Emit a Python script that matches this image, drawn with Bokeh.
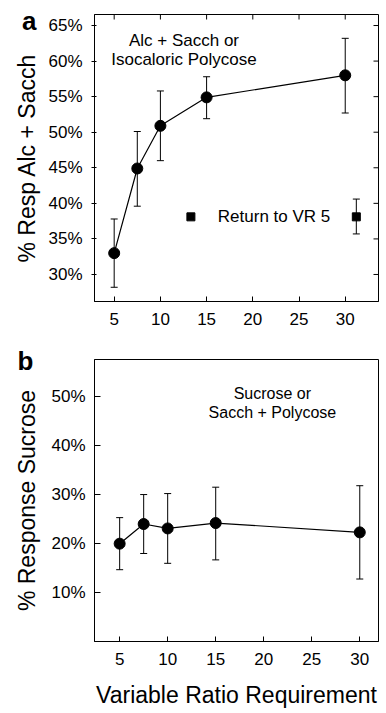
import math
from bokeh.plotting import figure
from bokeh.layouts import column
from bokeh.models import (Range1d, FixedTicker, PrintfTickFormatter, LinearAxis,
                          CustomJSTickFormatter, Whisker, TeeHead, ColumnDataSource)
from bokeh.embed import file_html
from bokeh.resources import INLINE
from bokeh.core.properties import value

FONT = "Liberation Sans"

# ---- data ----
vr = [5, 7.5, 10, 15, 30]
a_mean = [33.0, 44.9, 50.9, 54.9, 58.0]
a_upper = [37.8, 50.1, 55.8, 57.8, 63.2]
a_lower = [28.2, 39.6, 46.0, 51.9, 52.7]

ret_x = [31.2]
ret_mean = [38.1]
ret_upper = [40.6]
ret_lower = [35.7]

b_mean = [20.0, 24.0, 23.1, 24.2, 22.3]
b_upper = [25.3, 30.0, 30.2, 31.5, 31.8]
b_lower = [14.7, 18.0, 16.0, 16.7, 12.8]

x_ticks = [5, 10, 15, 20, 25, 30]
a_y_ticks = [30, 35, 40, 45, 50, 55, 60, 65]
b_y_ticks = [10, 20, 30, 40, 50]

a_note = ["Alc + Sacch or", "Isocaloric Polycose"]
b_note = ["Sucrose or", "Sacch + Polycose"]
legend_text = "Return to VR 5"


def style_axes(p, yticks, left_in, left_out, tick_standoff, label_standoff):
    for ax in p.xaxis:
        ax.ticker = FixedTicker(ticks=x_ticks)
        ax.major_tick_in = 5
        ax.major_tick_out = 0
        ax.minor_tick_line_color = None
        ax.major_label_text_font = FONT
        ax.major_label_text_font_size = "17px"
        ax.major_label_text_color = "black"
        ax.major_label_standoff = 11
        ax.axis_line_color = "black"
        ax.major_tick_line_color = "black"
    for ax in p.yaxis:
        ax.ticker = FixedTicker(ticks=yticks)
        ax.formatter = PrintfTickFormatter(format="%d%%")
        ax.major_tick_in = left_in
        ax.major_tick_out = left_out
        ax.minor_tick_line_color = None
        ax.major_label_text_font = FONT
        ax.major_label_text_font_size = "17px"
        ax.major_label_text_color = "black"
        ax.major_label_standoff = tick_standoff
        ax.axis_line_color = "black"
        ax.major_tick_line_color = "black"
        ax.axis_label_text_font = FONT
        ax.axis_label_text_font_size = "23px"
        ax.axis_label_text_font_style = "normal"
        ax.axis_label_text_color = "black"
        ax.axis_label_standoff = label_standoff
    p.xgrid.grid_line_color = None
    p.ygrid.grid_line_color = None
    p.outline_line_color = "black"
    p.outline_line_width = 1


def panel_letter(p, letter, y_pos, standoff):
    # an extra, line-less left axis whose single tick label is the panel letter
    ax = LinearAxis(ticker=FixedTicker(ticks=[y_pos]),
                    formatter=CustomJSTickFormatter(code="return '%s'" % letter),
                    axis_line_color=None, major_tick_line_color=None,
                    minor_tick_line_color=None, major_tick_in=0, major_tick_out=0,
                    major_label_standoff=standoff, major_label_text_font=FONT,
                    major_label_text_font_size="26px", major_label_text_font_style="bold",
                    major_label_text_color="black")
    p.add_layout(ax, "left")


def add_whiskers(p, src):
    p.add_layout(Whisker(source=src, base="x", upper="upper", lower="lower",
                         line_color="black", line_width=1,
                         upper_head=TeeHead(size=7, line_color="black", line_width=1),
                         lower_head=TeeHead(size=7, line_color="black", line_width=1)))


# ---- panel a ----
pa = figure(width=386, height=345, x_range=Range1d(2.87, 33.6), y_range=Range1d(26.2, 66.55),
            output_backend="svg", toolbar_location=None,
            min_border_left=89, min_border_right=8, min_border_top=14, min_border_bottom=44)
style_axes(pa, a_y_ticks, 2, 3, 9, 5)
pa.yaxis.axis_label = "% Resp Alc + Sacch"
panel_letter(pa, "a", 65.6, -25)

# inward tick marks on the top and right edges of panel a
pa.ray(x=x_ticks, y=[pa.y_range.end] * len(x_ticks), length=5, length_units="screen",
       angle=-math.pi / 2, line_color="black", line_width=1)
pa.ray(x=[pa.x_range.end] * len(a_y_ticks), y=a_y_ticks, length=5, length_units="screen",
       angle=math.pi, line_color="black", line_width=1)

src_a = ColumnDataSource(dict(x=vr, y=a_mean, upper=a_upper, lower=a_lower))
add_whiskers(pa, src_a)
pa.line("x", "y", source=src_a, line_color="black", line_width=1.2)
pa.scatter("x", "y", source=src_a, size=11, color="black")

src_r = ColumnDataSource(dict(x=ret_x, y=ret_mean, upper=ret_upper, lower=ret_lower))
add_whiskers(pa, src_r)
pa.scatter("x", "y", source=src_r, marker="square", size=8, color="black")

# legend-like marker and text
pa.scatter(x=[13.3], y=[38.1], marker="square", size=8, color="black")
pa.text(x=[22.3], y=[38.1], text=[legend_text], text_font=value(FONT), text_font_size="17px",
        text_align="center", text_baseline="middle", text_color="black")
pa.text(x=[12.55, 12.55], y=[62.9, 60.2], text=a_note, text_font=value(FONT),
        text_font_size="17px", text_align="center", text_baseline="middle", text_color="black")

# ---- panel b ----
pb = figure(width=386, height=368, x_range=Range1d(2.38, 31.95), y_range=Range1d(0.08, 57.5),
            output_backend="svg", toolbar_location=None,
            min_border_left=94, min_border_right=4, min_border_top=14, min_border_bottom=72)
style_axes(pb, b_y_ticks, 6, 0, 9, 8)
pb.yaxis.axis_label = "% Response Sucrose"
panel_letter(pb, "b", 57.1, -22)
pb.xaxis.axis_label = "Variable Ratio Requirement"
pb.xaxis.axis_label_text_font = FONT
pb.xaxis.axis_label_text_font_size = "23px"
pb.xaxis.axis_label_text_font_style = "normal"
pb.xaxis.axis_label_text_color = "black"
pb.xaxis.axis_label_standoff = 14

src_b = ColumnDataSource(dict(x=vr, y=b_mean, upper=b_upper, lower=b_lower))
add_whiskers(pb, src_b)
pb.line("x", "y", source=src_b, line_color="black", line_width=1.2)
pb.scatter("x", "y", source=src_b, size=11, color="black")
pb.text(x=[20.9, 20.9], y=[50.6, 46.7], text=b_note, text_font=value(FONT),
        text_font_size="16px", text_align="center", text_baseline="middle", text_color="black")

layout = column(pa, pb, spacing=0)
open("out.html", "w").write(file_html(layout, INLINE))
